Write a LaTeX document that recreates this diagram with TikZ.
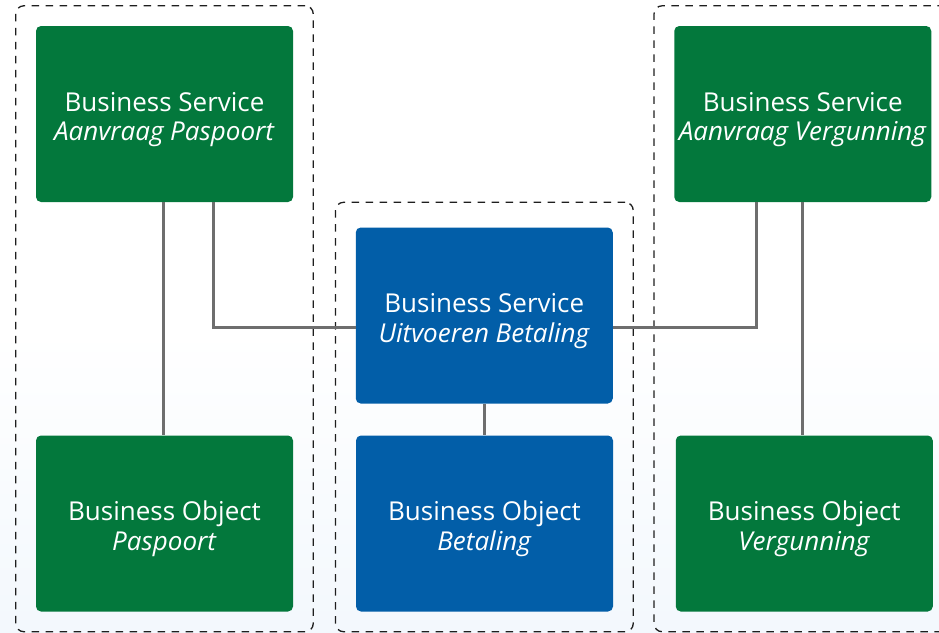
\documentclass[tikz,border=0pt]{standalone}
\usepackage{fontspec}
\setmainfont{Open Sans}
\usepackage{tikz}
\usetikzlibrary{positioning,fit,backgrounds}

\definecolor{bizgreen}{RGB}{3,120,60}
\definecolor{bizblue}{RGB}{2,94,168}
\definecolor{linkgray}{RGB}{110,110,110}
\definecolor{dashgray}{RGB}{30,30,30}
\definecolor{paleblue}{RGB}{243,248,253}

\tikzset{
  bizbox/.style={rectangle,rounded corners=5pt,inner sep=0pt,minimum width=257pt,minimum height=176pt,
    text=white,align=center,font=\fontsize{26}{29.5}\selectfont},
  svcgreen/.style={bizbox,fill=bizgreen},
  svcblue/.style={bizbox,fill=bizblue},
  link/.style={linkgray,line width=3pt},
  groupbox/.style={draw=dashgray,line width=1.3pt,dash pattern=on 7.5pt off 6.5pt,rounded corners=8pt,inner sep=20pt}
}

\begin{document}
\begin{tikzpicture}[x=1pt,y=-1pt]
    \useasboundingbox (0,0) rectangle (939,632);
    \begin{scope}[on background layer]
      \fill[white] (0,0) rectangle (939,632);
      \shade[top color=white,bottom color=paleblue] (0,330) rectangle (939,632);
    \end{scope}
    % services
    \node[svcgreen] (bsPaspoort) at (164.5,114) {\rule{0pt}{30pt}Business Service\\\textit{Aanvraag Paspoort}};
    \node[svcblue] (bsBetaling) at (484.25,315.5) {\rule{0pt}{30pt}Business Service\\\textit{Uitvoeren Betaling}};
    \node[svcgreen] (bsVergunning) at (802.75,114) {\rule{0pt}{30pt}Business Service\\\textit{Aanvraag Vergunning}};
    % objects
    \node[svcgreen] (boPaspoort) at (164.5,523.5) {\rule{0pt}{30pt}Business Object\\\textit{Paspoort}};
    \node[svcblue] (boBetaling) at (484.5,523.5) {\rule{0pt}{30pt}Business Object\\\textit{Betaling}};
    \node[svcgreen] (boVergunning) at (804.25,523.5) {\rule{0pt}{30pt}Business Object\\\textit{Vergunning}};
    % links
    \draw[link] ([xshift=-1.5pt]bsPaspoort.south) -- ([xshift=-1.5pt]boPaspoort.north);
    \draw[link] ([xshift=48.5pt]bsPaspoort.south) |- ([yshift=-11.5pt]bsBetaling.west);
    \draw[link] ([yshift=-11.5pt]bsBetaling.east) -| ([xshift=-46.5pt]bsVergunning.south);
    \draw[link] (bsBetaling.south) -- (bsBetaling.south |- boBetaling.north);
    \draw[link] (bsVergunning.south) -- (bsVergunning.south |- boVergunning.north);
    % groups
    \begin{scope}[on background layer]
      \node[groupbox,fit=(bsPaspoort)(boPaspoort)] (grpPaspoort) {};
      \node[groupbox,fit=(bsBetaling)(boBetaling),inner ysep=22.5pt,yshift=2.5pt] (grpBetaling) {};
      \node[groupbox,fit=(bsVergunning)(boVergunning)] (grpVergunning) {};
    \end{scope}
\end{tikzpicture}
\end{document}
